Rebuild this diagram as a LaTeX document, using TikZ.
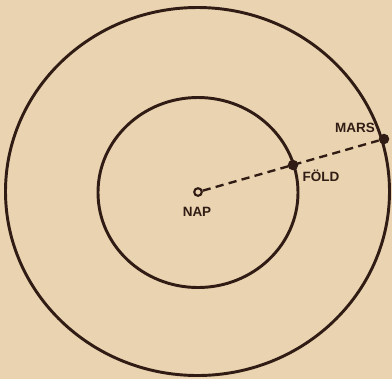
\documentclass[tikz,border=0pt]{standalone}
\usepackage{fontspec}
\setsansfont{Liberation Sans}
\usetikzlibrary{positioning}
\definecolor{paperbeige}{RGB}{234,211,176}
\definecolor{inkbrown}{RGB}{48,28,20}

\begin{document}
\begin{tikzpicture}[x=0.03cm,y=-0.03cm,
    orbit/.style={draw=inkbrown,line width=2.5pt},
    planet/.style={circle,fill=inkbrown,inner sep=0pt,minimum size=9pt},
    label/.style={text=inkbrown,font=\sffamily\bfseries\fontsize{11.5}{12}\selectfont,inner sep=1pt}]
  \fill[paperbeige] (0,0) rectangle (392,379);
  \useasboundingbox (0,0) rectangle (392,379);
  % orbits
  \draw[orbit] (197.5,191.5) ellipse [x radius=192,y radius=184];
  \draw[orbit] (198,192.5) ellipse [x radius=100,y radius=95];
  % sun, earth, mars
  \node[circle,draw=inkbrown,line width=1.8pt,inner sep=0pt,minimum size=6.5pt] (nap) at (198,192) {};
  \node[planet] (fold) at (293,165) {};
  \node[planet] (mars) at (384,139) {};
  \draw[inkbrown,line width=2pt,dash pattern=on 7pt off 4.5pt] (nap) -- (mars);
  % labels
  \node[label] (naplabel) at (197,212) {NAP};
  \node[label] (foldlabel) at (321,176) {FÖLD};
  \node[label] (marslabel) at (355,128) {MARS};
\end{tikzpicture}
\end{document}
